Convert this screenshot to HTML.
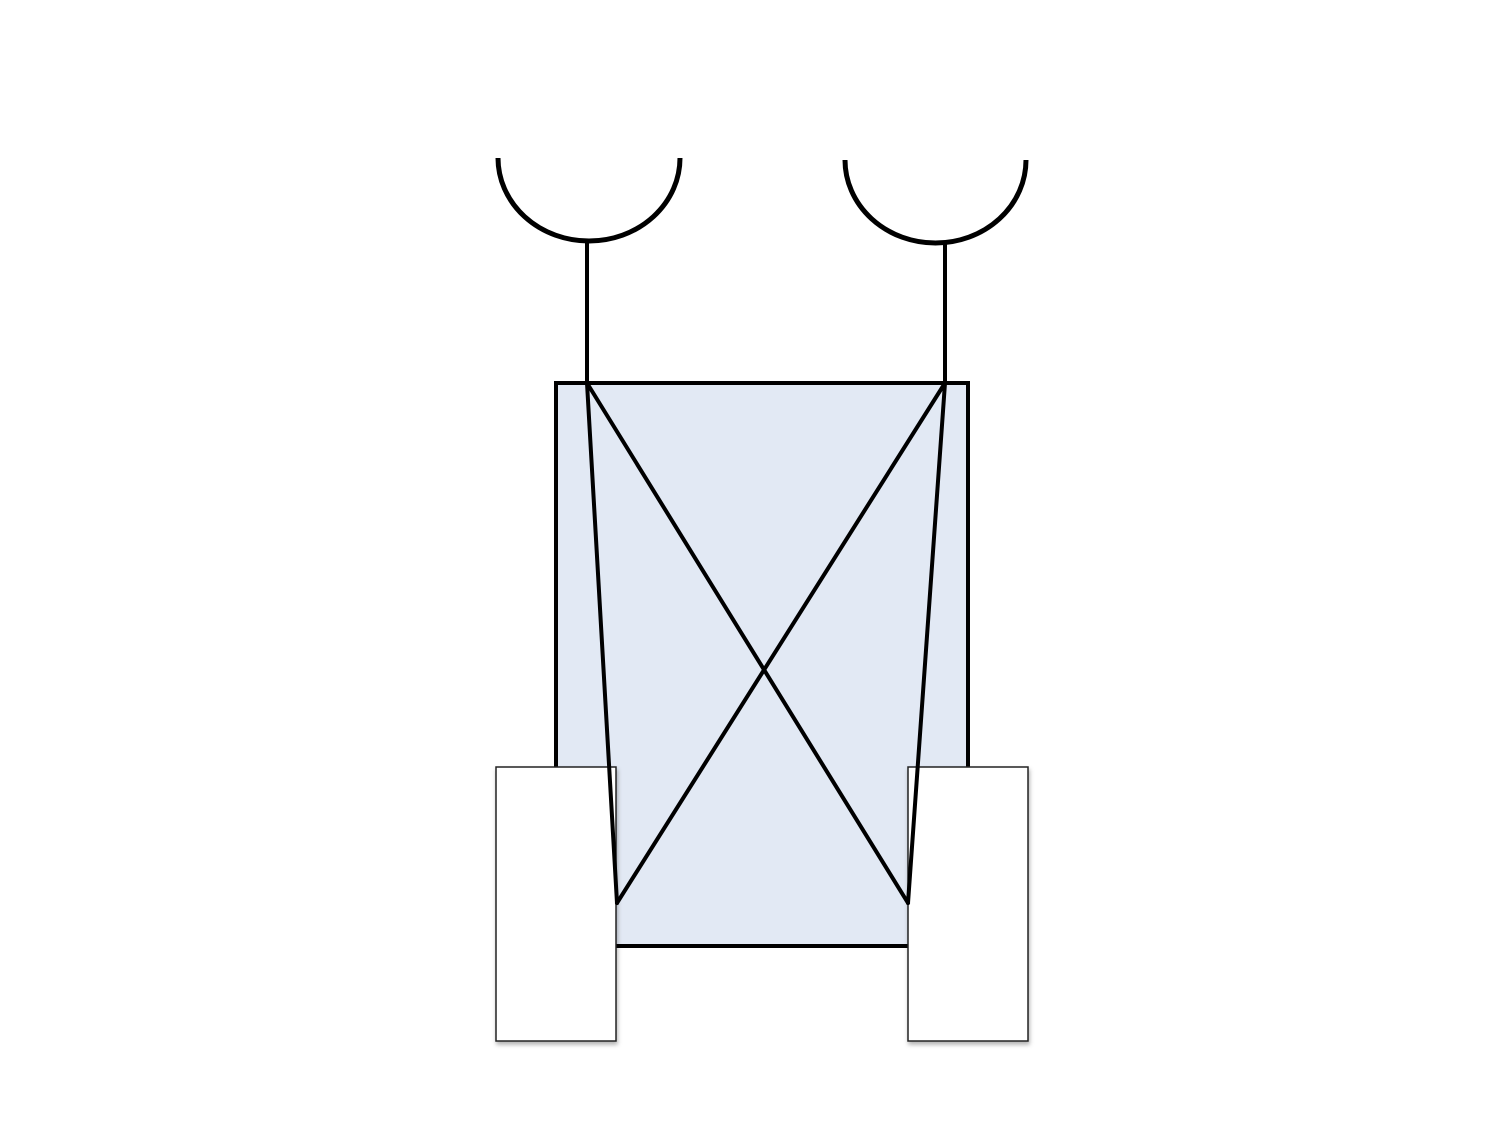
<!DOCTYPE html>
<html><head><meta charset="utf-8"><style>html,body{margin:0;padding:0;background:#fff}svg{display:block}</style></head>
<body>
<svg width="1500" height="1125" viewBox="0 0 1500 1125">
<defs><filter id="sh" x="-10%" y="-10%" width="130%" height="130%"><feDropShadow dx="1" dy="3" stdDeviation="2" flood-color="#000" flood-opacity="0.3"/></filter></defs>
<rect x="556" y="383" width="412" height="563" fill="#e2e9f4" stroke="#000" stroke-width="4"/>
<path d="M498,158 A91,83 0 0 0 680,158" fill="none" stroke="#000" stroke-width="5"/>
<path d="M845,160 A90.5,83 0 0 0 1026,160" fill="none" stroke="#000" stroke-width="5"/>
<line x1="587" y1="241" x2="587" y2="383" stroke="#000" stroke-width="4"/>
<line x1="945" y1="243" x2="945" y2="383" stroke="#000" stroke-width="4"/>
<rect x="496" y="767" width="120" height="274" fill="#fff" stroke="#222" stroke-width="1.5" filter="url(#sh)"/>
<rect x="908" y="767" width="120" height="274" fill="#fff" stroke="#222" stroke-width="1.5" filter="url(#sh)"/>
<g stroke="#000" stroke-width="4" fill="none" stroke-linecap="round">
<line x1="587" y1="383" x2="617" y2="903"/>
<line x1="587" y1="383" x2="908" y2="903"/>
<line x1="945" y1="383" x2="617" y2="903"/>
<line x1="945" y1="383" x2="908" y2="903"/>
</g>
</svg>
</body></html>
